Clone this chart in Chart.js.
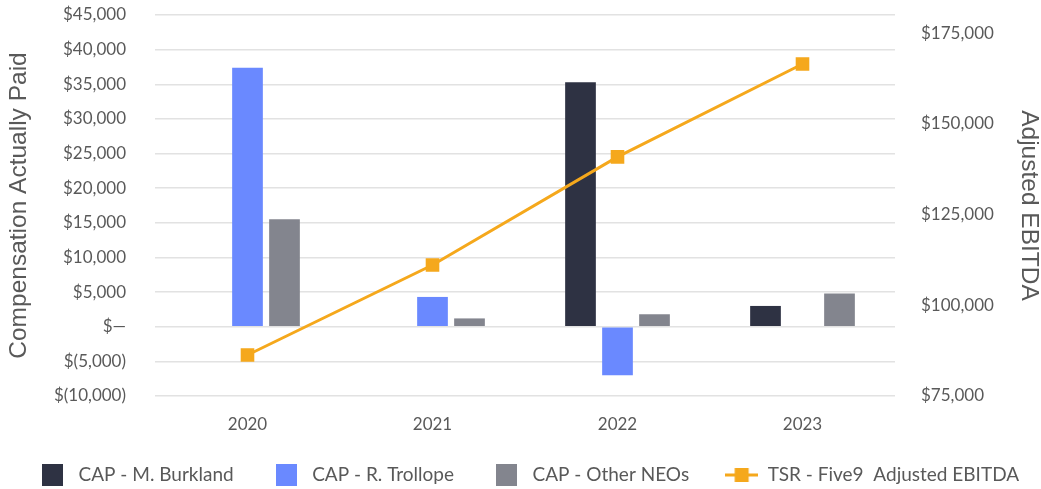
<!DOCTYPE html>
<html><head><meta charset="utf-8">
<script src="https://cdn.jsdelivr.net/npm/chart.js@4.4.1/dist/chart.umd.min.js"></script>
<style>html,body{margin:0;padding:0;background:#fff}</style>
</head><body>
<canvas id="c" width="1041" height="489"></canvas>
<script>
const years = ['2020', '2021', '2022', '2023'];
const capBurkland = [null, null, 35300, 3000];
const capTrollope = [37400, 4300, -7000, null];
const capOtherNEOs = [15500, 1200, 1800, 4800];
const tsrEbitda = [86300, 111100, 140900, 166500];
const rightTicks = [75000, 100000, 125000, 150000, 175000];
const seriesNames = ['CAP - M. Burkland', 'CAP - R. Trollope', 'CAP - Other NEOs', 'TSR - Five9  Adjusted EBITDA'];
const leftAxisTitle = 'Compensation Actually Paid';
const rightAxisTitle = 'Adjusted EBITDA';

const cDark = '#2e3243', cBlue = '#6a89ff', cGray = '#83858e', cOrange = '#f5a81c';
const txt = '#595959';
const LEGEND_PAD = 36, LEGEND_FONT = 19, LEGEND_CENTER_Y = 475;

function boxImg(color) {
  const cv = document.createElement('canvas'); cv.width = 21; cv.height = 22;
  const g = cv.getContext('2d'); g.fillStyle = color; g.fillRect(0, 0, 21, 22); return cv;
}
function lineImg(color) {
  const cv = document.createElement('canvas'); cv.width = 33; cv.height = 16;
  const g = cv.getContext('2d'); g.strokeStyle = color; g.lineWidth = 3;
  g.beginPath(); g.moveTo(0, 8); g.lineTo(33, 8); g.stroke();
  g.fillStyle = color; g.fillRect(9.5, 1, 14, 14); return cv;
}
const fmtMoney = v => {
  if (v === 0) return '$\u2014';
  const s = Math.abs(v).toLocaleString('en-US');
  return v < 0 ? '$(' + s + ')' : '$' + s;
};

const legendFix = {
  id: 'legendFix',
  beforeLayout(chart) {
    const lg = chart.legend;
    if (lg && !lg._fixed) {
      const orig = lg.fit;
      lg.fit = function () { orig.call(this); this.height = 48; };
      lg._fixed = true;
    }
  },
  afterLayout(chart) {
    const lg = chart.legend;
    if (!lg) return;
    lg.top = LEGEND_CENTER_Y - LEGEND_PAD - LEGEND_FONT / 2;
    lg.bottom = chart.height + 20;
    lg.right = 1400;
  }
};

new Chart(document.getElementById('c'), {
  data: {
    labels: years,
    datasets: [
      { type: 'bar', label: seriesNames[0], data: capBurkland, backgroundColor: cDark, yAxisID: 'y', order: 1, legendImg: boxImg(cDark) },
      { type: 'bar', label: seriesNames[1], data: capTrollope, backgroundColor: cBlue, yAxisID: 'y', order: 1, legendImg: boxImg(cBlue) },
      { type: 'bar', label: seriesNames[2], data: capOtherNEOs, backgroundColor: cGray, yAxisID: 'y', order: 1, legendImg: boxImg(cGray) },
      { type: 'line', label: seriesNames[3], data: tsrEbitda, borderColor: cOrange, backgroundColor: cOrange, borderWidth: 3,
        pointStyle: 'rect', pointRadius: 7.5, pointHoverRadius: 7.5, yAxisID: 'y1', order: 0, legendImg: lineImg(cOrange) }
    ]
  },
  plugins: [legendFix],
  options: {
    responsive: false,
    animation: false,
    layout: { padding: { top: 15, left: 0, right: 0, bottom: 0 } },
    datasets: { bar: { barPercentage: 0.83, categoryPercentage: 0.6 } },
    plugins: {
      tooltip: { enabled: false },
      legend: {
        position: 'bottom',
        align: 'start',
        labels: {
          usePointStyle: true,
          pointStyleWidth: 33,
          boxHeight: 18,
          padding: LEGEND_PAD,
          color: txt,
          font: { family: 'Lato', size: LEGEND_FONT },
          sort: (a, b) => a.datasetIndex - b.datasetIndex,
          generateLabels: chart => chart.data.datasets.map((ds, i) => ({
            text: ds.label, datasetIndex: i, pointStyle: ds.legendImg,
            fillStyle: ds.backgroundColor, strokeStyle: ds.backgroundColor, lineWidth: 0, hidden: false, fontColor: txt
          }))
        }
      }
    },
    scales: {
      x: {
        grid: { display: false }, border: { display: false },
        ticks: { color: txt, font: { family: 'Lato', size: 17 }, padding: 10 },
        afterFit: s => { s.height = 45; }
      },
      y: {
        position: 'left', min: -10000, max: 45000,
        ticks: { stepSize: 5000, color: txt, font: { family: 'Lato', size: 17 }, padding: 0, callback: v => fmtMoney(v) },
        grid: { color: '#e2e2e2', lineWidth: 1.5, drawTicks: true, tickLength: 29, tickColor: 'rgba(0,0,0,0)' },
        border: { display: false },
        title: { display: true, text: leftAxisTitle, color: txt, font: { family: 'Liberation Sans', size: 24.5 }, padding: { top: 5, bottom: 0 } },
        afterFit: s => { s.width = 155; }
      },
      y1: {
        position: 'right', min: 75000, max: 180000,
        afterBuildTicks: s => { s.ticks = rightTicks.map(v => ({ value: v })); },
        ticks: { color: txt, font: { family: 'Lato', size: 17 }, padding: 0, callback: v => fmtMoney(v) },
        grid: { display: true, drawOnChartArea: false, color: 'rgba(0,0,0,0)', drawTicks: true, tickLength: 26, tickColor: 'rgba(0,0,0,0)' },
        border: { display: false },
        title: { display: true, text: rightAxisTitle, color: txt, font: { family: 'Liberation Sans', size: 24.5 }, padding: { top: -2, bottom: 0 } },
        afterFit: s => { s.width = 146; }
      }
    }
  }
});
</script>
</body></html>
